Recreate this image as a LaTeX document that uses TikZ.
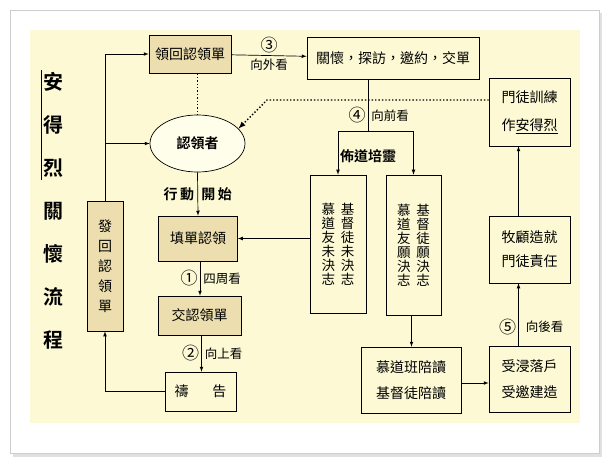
\documentclass[tikz,border=0pt]{standalone}
\usepackage{fontspec}
\setmainfont{Noto Sans CJK TC}[BoldFont={Noto Sans CJK TC Bold}]
\usetikzlibrary{arrows,positioning,shapes.geometric}
\definecolor{paper}{RGB}{252,249,212}
\definecolor{tanfill}{RGB}{236,222,174}
\definecolor{cardline}{RGB}{205,205,205}

\begin{document}
\begin{tikzpicture}[x=1pt,y=-1pt,>=latex,line width=0.7pt,
    font=\fontsize{14}{15}\selectfont,
    box/.style={draw,inner sep=2pt,align=center},
    tanbox/.style={box,fill=tanfill},
    lbl/.style={font=\fontsize{12.5}{13}\selectfont,inner sep=3pt},
    num/.style={font=\fontsize{17}{17}\selectfont,inner sep=2pt},
    title/.style={font=\fontsize{20}{22}\selectfont\bfseries,minimum width=20pt,inner sep=0pt}]
      % card and panel
      \useasboundingbox (0,0) rectangle (610,465);
      \fill[black!12] (13,13) rectangle (602,457);
      \filldraw[fill=white,draw=cardline] (10,10) rectangle (599,453);
      \fill[paper] (30,30) rectangle (580,423);

      % title
      \foreach \ch [count=\i] in {安,得,烈,關,懷,流,程}
        \node[title] (t\i) at (53,82+43*\i-43) {\ch};
      \draw ([xshift=-1pt,yshift=2pt]t1.north west) -- ([xshift=-1pt,yshift=-2pt]t3.south west);

      % left column
      \node[tanbox,minimum width=82pt,minimum height=38pt] (lingdan) at (190,54) {領回認領單};
      \node[ellipse,draw,fill=yellow!8,minimum width=95pt,minimum height=57pt,inner sep=0pt,font=\fontsize{14}{15}\selectfont\bfseries] (renling) at (197.5,143.5) {認領者};
      \node[tanbox,minimum width=79pt,minimum height=45pt] (tiandan) at (198,238.5) {填單認領};
      \node[tanbox,minimum width=83pt,minimum height=39pt] (jiaodan) at (199.5,315.5) {交認領單};
      \node[box,minimum width=71pt,minimum height=39pt] (daogao) at (200.5,391.5) {禱\hspace{1.7em}告};
      \node[tanbox,minimum width=36pt,minimum height=130pt,inner sep=0pt,
            font=\fontsize{14}{20}\selectfont] (fahui) at (105,266) {發\\回\\認\\領\\單};

      % middle
      \node[box,minimum width=172pt,minimum height=42pt] (guanhuai) at (393,58) {關懷，探訪，邀約，交單};
      \node[font=\fontsize{14}{15}\selectfont\bfseries] (budao) at (368,156) {佈道培靈};
      \node[box,minimum width=56pt,minimum height=138pt,inner sep=0pt,
            font=\fontsize{13.5}{14}\selectfont] (weijue) at (338,244)
            {慕\hspace{6pt}基\\道\hspace{6pt}督\\友\hspace{6pt}徒\\未\hspace{6pt}未\\決\hspace{6pt}決\\志\hspace{6pt}志};
      \node[box,minimum width=55pt,minimum height=140pt,inner sep=0pt,
            font=\fontsize{13.5}{14}\selectfont] (yuanjue) at (413.5,245)
            {慕\hspace{6pt}基\\道\hspace{6pt}督\\友\hspace{6pt}徒\\願\hspace{6pt}願\\決\hspace{6pt}決\\志\hspace{6pt}志};
      \node[box,minimum width=100pt,minimum height=66pt,font=\fontsize{14}{26}\selectfont] (peidu) at (411,380) {慕道班陪讀\\基督徒陪讀};

      % right column
      \node[box,minimum width=81pt,minimum height=68pt,font=\fontsize{14}{28}\selectfont] (mentu) at (529.5,112) {門徒訓練\\作\underline{安得烈}};
      \node[box,minimum width=81pt,minimum height=67pt,font=\fontsize{14}{24}\selectfont] (mugu) at (529.5,249.5) {牧顧造就\\門徒責任};
      \node[box,minimum width=81pt,minimum height=66pt,font=\fontsize{14}{26}\selectfont] (shoujin) at (529.5,379) {受浸落戶\\受邀建造};

      \coordinate (dbend) at (267,100);
      \coordinate (split) at (368,131);

      % connectors
      \draw[->] (fahui.north) |- (lingdan.west);
      \draw[->] (fahui.north |- renling.west) -- (renling.west);
      \draw[->] (daogao.west) -| (fahui.south);
      \draw[->] (lingdan) -- node[num,above]{③} node[lbl,below]{向外看} (guanhuai);
      \draw[dotted,line width=1.4pt] (lingdan.south -| renling.north) -- (renling.north);
      \draw[dotted,line width=1.4pt,->] ([yshift=12pt]mentu.west) -- (dbend) -- (renling.20);
      \draw[->] (renling.south) -- node[left,font=\fontsize{14}{15}\selectfont\bfseries]{行\,動}
            node[right,font=\fontsize{14}{15}\selectfont\bfseries]{開\,始} (tiandan.north);
      \draw[->] ([xshift=2pt]tiandan.south) -- node[num,left]{①} node[lbl,right]{四周看} ([xshift=2pt]tiandan.south |- jiaodan.north);
      \draw[->] ([xshift=2pt]jiaodan.south) -- node[num,left]{②} node[lbl,right]{向上看} ([xshift=2pt]jiaodan.south |- daogao.north);
      \draw ([xshift=-25pt]guanhuai.south) -- node[num,left,pos=0.7]{④} node[lbl,right,pos=0.7]{向前看} (split);
      \draw[->] (split) -| (weijue.north);
      \draw[->] (split) -| (yuanjue.north);
      \draw[->] (weijue.west |- tiandan.east) -- (tiandan.east);
      \draw[->] ([xshift=-2pt]yuanjue.south) -- ([xshift=-2pt]yuanjue.south |- peidu.north);
      \draw[->] ([yshift=-3pt]peidu.east) -- ([yshift=-3pt]peidu.east -| shoujin.west);
      \draw[->] ([xshift=-11pt]shoujin.north) -- node[num,left,pos=0.3]{⑤} node[lbl,right,pos=0.3]{\hspace{4pt}向後看} ([xshift=-11pt]mugu.south);
      \draw[->] ([xshift=-11pt]mugu.north) -- ([xshift=-11pt]mentu.south);
\end{tikzpicture}
\end{document}
